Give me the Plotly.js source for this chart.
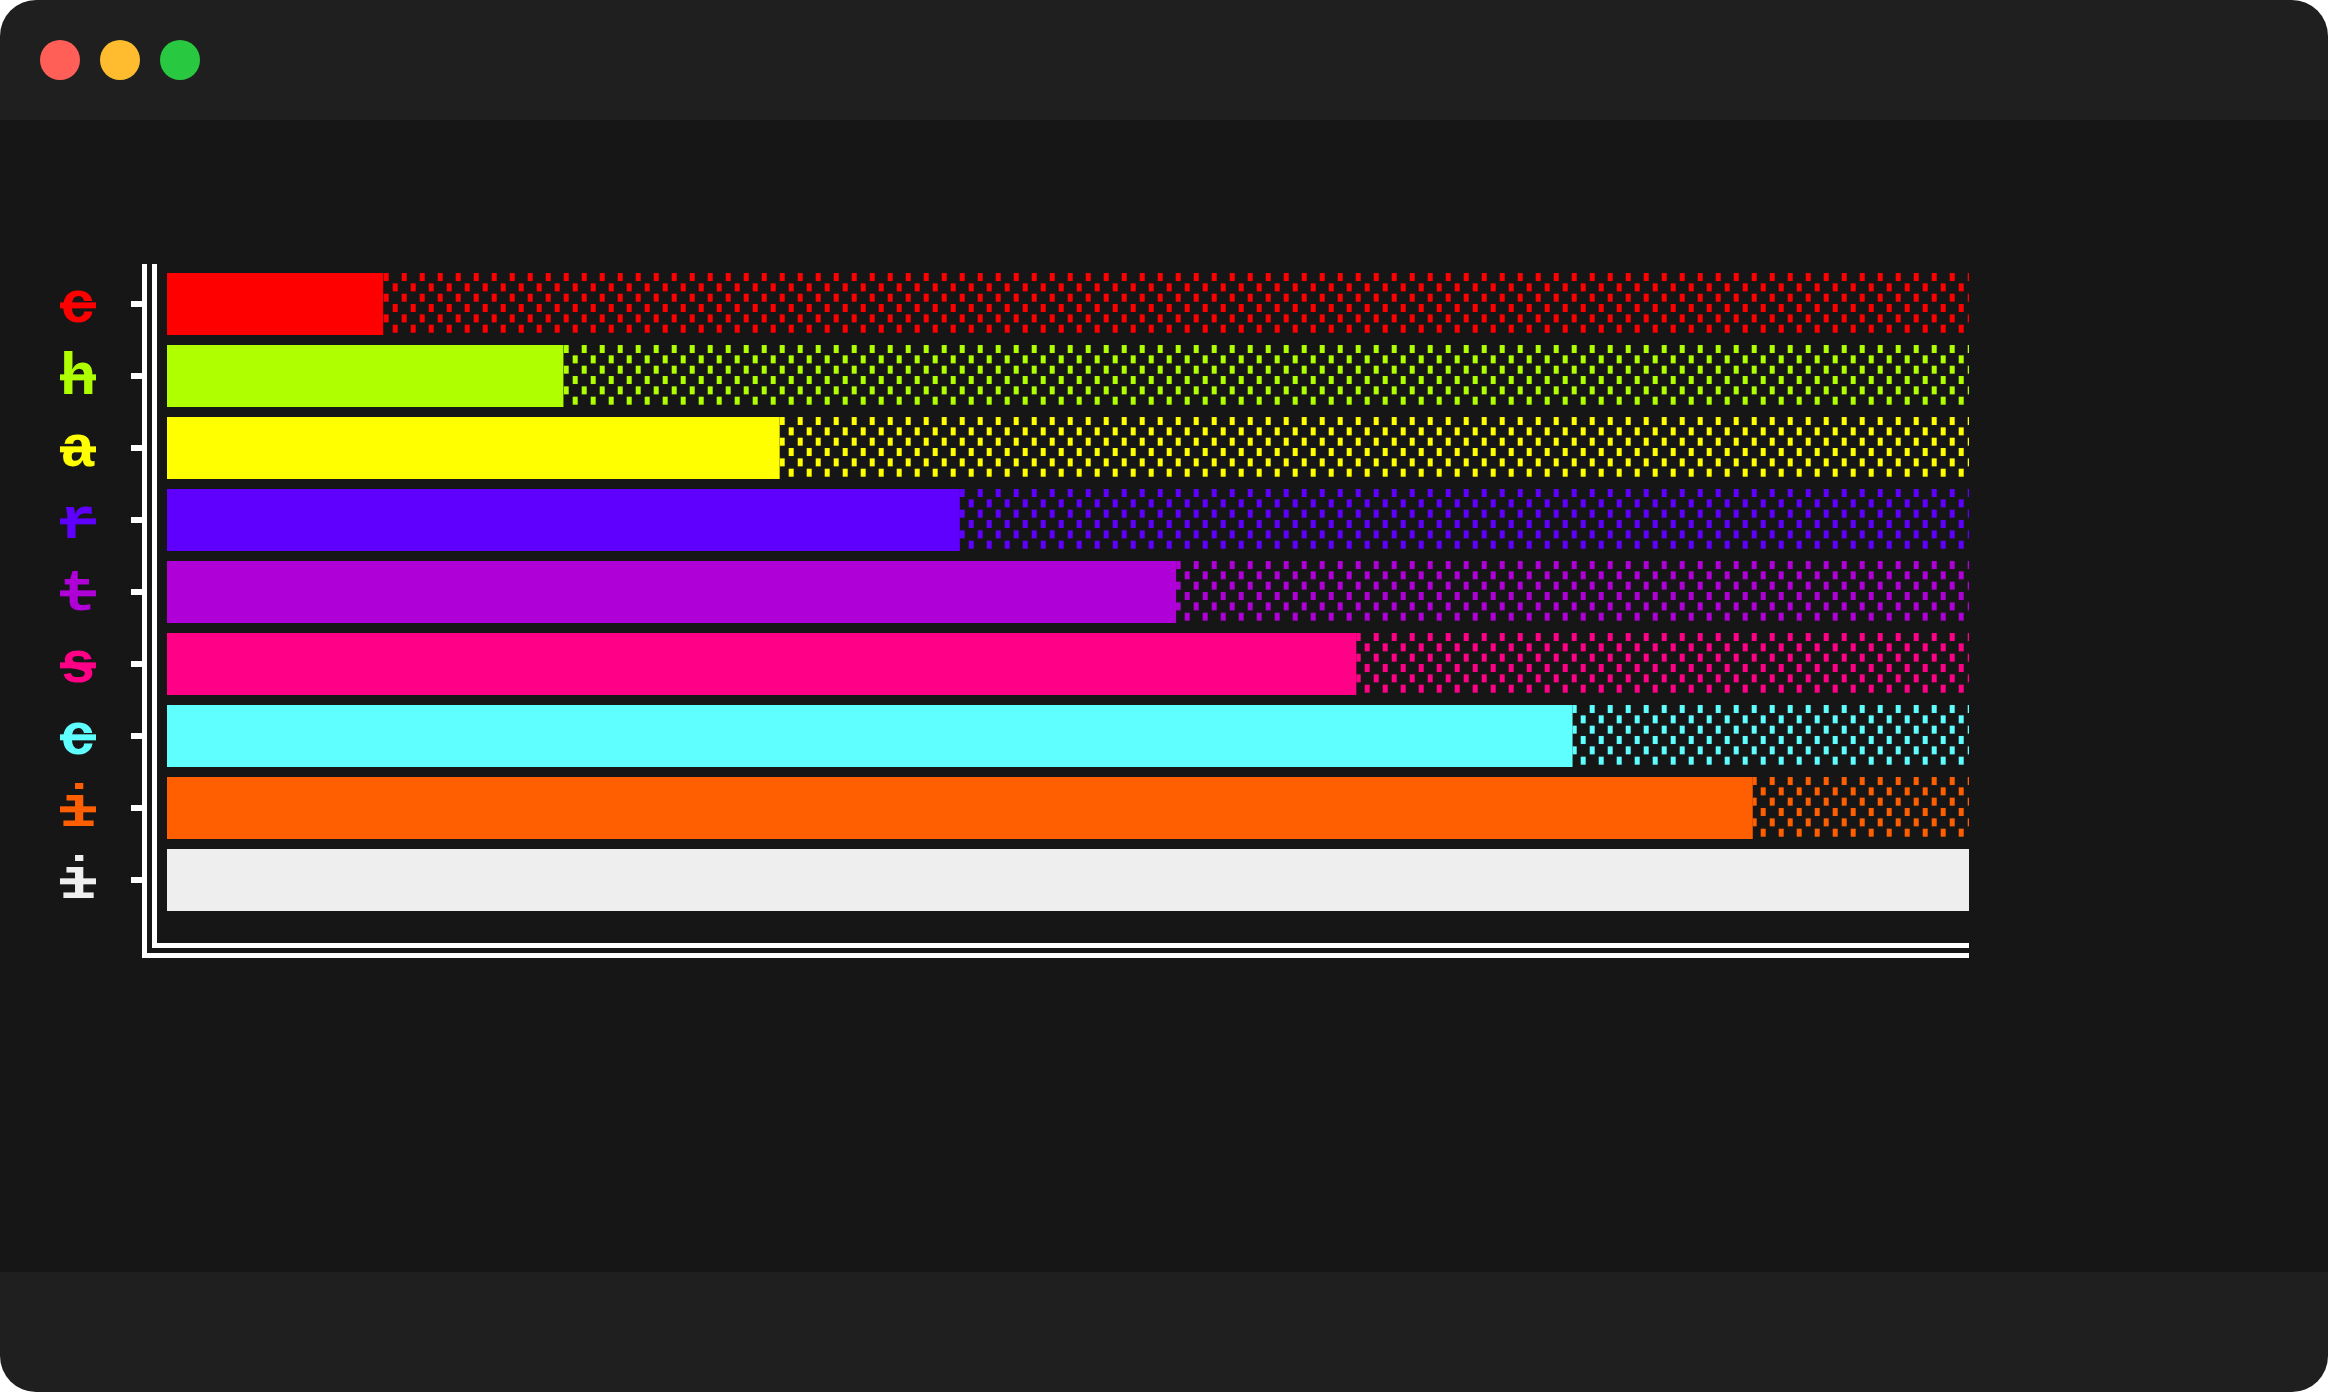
<!DOCTYPE html>
<html><head><meta charset="utf-8">
<script src="https://cdn.plot.ly/plotly-3.0.1.min.js"></script>
<style>
html,body{margin:0;padding:0;background:#ffffff;width:2328px;height:1392px;overflow:hidden}
#win{position:absolute;left:0;top:0;width:2328px;height:1392px;border-radius:36px;background:#1f1f1f;overflow:hidden}
#content{position:absolute;left:0;top:120px;width:2328px;height:1152px;background:#161616}
.btn{position:absolute;top:40px;width:40px;height:40px;border-radius:50%}
#chart{position:absolute;left:0;top:0;width:2328px;height:1392px}
</style></head>
<body>
<div id="win"><div id="content"></div>
<div class="btn" style="left:40px;background:#ff5f57"></div>
<div class="btn" style="left:100px;background:#febc2e"></div>
<div class="btn" style="left:160px;background:#28c840"></div>
</div>
<div id="chart"></div>
<script>
// ---- data ----
const labels = ['c','h','a','r','t','s','c','i','i'];
const values = [12, 22, 34, 44, 56, 66, 78, 88, 100];
const colors = ['#ff0000','#afff00','#ffff00','#5f00ff','#af00d7','#ff0087','#5fffff','#ff5f00','#eeeeee'];
const maxValue = 100;

// ---- layout geometry (pixels) ----
const W = 2328, H = 1392;
const M = {l:147, r:359, t:264, b:439};
const PW = W - M.l - M.r, PH = H - M.t - M.b;
const px2x = p => (p - M.l) / PW;
const px2y = p => (H - M.b - p) / PH;

const idx = labels.map((_, i) => i);
const ticktext = labels.map((l, i) =>
  '<span style="color:' + colors[i] + ';text-decoration:line-through;text-decoration-thickness:7px">' + l + '</span>');

const solid = {
  type:'bar', orientation:'h', x: values, y: idx, width: 0.861,
  marker:{color: colors, line:{width:0}}, hoverinfo:'x', showlegend:false
};
const rest = {
  type:'bar', orientation:'h', x: values.map(v => maxValue - v), base: values, y: idx, width: 0.861,
  marker:{color:'rgba(0,0,0,0)', line:{width:0},
    pattern:{shape:'.', fgcolor: colors, bgcolor:'rgba(0,0,0,0)', size:18, solidity:0.15, fillmode:'replace'}},
  hoverinfo:'skip', showlegend:false
};

const layout = {
  width: W, height: H,
  paper_bgcolor:'rgba(0,0,0,0)', plot_bgcolor:'rgba(0,0,0,0)',
  margin: M, barmode:'overlay', showlegend:false,
  xaxis:{range:[-1.11, maxValue], showgrid:false, zeroline:false, showticklabels:false, ticks:'',
    showline:true, linecolor:'#ffffff', linewidth:5, fixedrange:true},
  yaxis:{range:[9.014, -0.556], tickmode:'array', tickvals: idx, ticktext: ticktext,
    ticks:'outside', ticklen:11, tickwidth:6, tickcolor:'#ffffff',
    showline:true, linecolor:'#ffffff', linewidth:5, zeroline:false, showgrid:false,
    ticklabelstandoff:23, ticklabelshift:3,
    tickfont:{family:'Liberation Mono, monospace', size:60, weight:'bold', color:'#ffffff'}, fixedrange:true},
  shapes:[
    {type:'line', xref:'paper', yref:'paper', x0:px2x(154.5), x1:px2x(154.5), y0:px2y(264), y1:px2y(948),
      line:{color:'#ffffff', width:5}},
    {type:'line', xref:'paper', yref:'paper', x0:px2x(152), x1:1, y0:px2y(945.5), y1:px2y(945.5),
      line:{color:'#ffffff', width:5}}
  ]
};

// shade-character look: staggered small blocks, 6 rows per bar row (tile = one bar pitch)
function restyleShade(gd) {
  const pitch = PH / (layout.yaxis.range[0] - layout.yaxis.range[1]);
  const barTop = (0 - layout.yaxis.range[1] - 0.861 / 2) * pitch;
  const barH = 0.861 * pitch;
  const rowStep = barH / 6;
  const cell = 18;
  const x0 = (0 - layout.xaxis.range[0]) / (layout.xaxis.range[1] - layout.xaxis.range[0]) * PW;
  gd.querySelectorAll('defs pattern').forEach(p => {
    const fg = p.querySelector('circle, path');
    if (!fg) return;
    const fill = fg.getAttribute('fill') || fg.style.fill || '#ffffff';
    while (p.firstChild) p.removeChild(p.firstChild);
    p.setAttribute('width', cell);
    p.setAttribute('height', pitch);
    for (let r = 0; r < 6; r++) {
      const rect = document.createElementNS('http://www.w3.org/2000/svg', 'rect');
      const xo = ((x0 + 0.7 + (r % 2 ? 9 : 0)) % cell);
      rect.setAttribute('x', xo);
      rect.setAttribute('y', (barTop % pitch + pitch) % pitch + r * rowStep);
      rect.setAttribute('width', 5);
      rect.setAttribute('height', 8);
      rect.setAttribute('fill', fill);
      p.appendChild(rect);
    }
  });
}

Plotly.newPlot('chart', [solid, rest], layout, {displayModeBar:false, staticPlot:true}).then(restyleShade);
</script>
</body></html>
